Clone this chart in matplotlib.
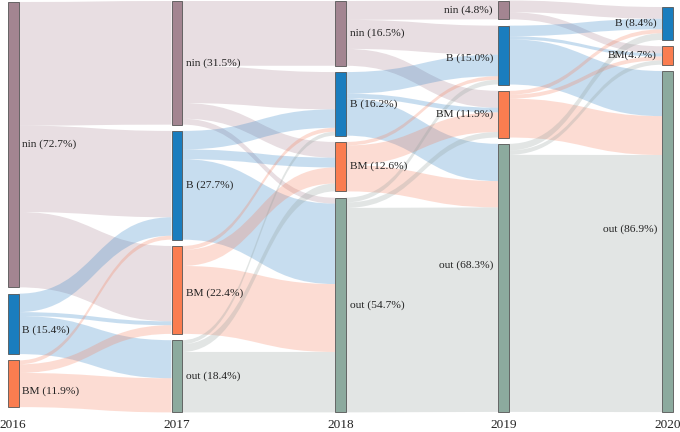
import matplotlib
matplotlib.use("Agg")
import matplotlib.pyplot as plt
from matplotlib.path import Path
from matplotlib.patches import PathPatch, Rectangle

# ---------------- data ----------------
years = ["2016", "2017", "2018", "2019", "2020"]
col_cats = [
    ["nin", "B", "BM"],
    ["nin", "B", "BM", "out"],
    ["nin", "B", "BM", "out"],
    ["nin", "B", "BM", "out"],
    ["B", "BM", "out"],
]
pct_2016 = [72.7, 15.4, 11.9]
pct_2017 = [31.5, 27.7, 22.4, 18.4]
pct_2018 = [16.5, 16.2, 12.6, 54.7]
pct_2019 = [4.8, 15.0, 11.9, 68.3]
pct_2020 = [8.4, 4.7, 86.9]
node_pct = [pct_2016, pct_2017, pct_2018, pct_2019, pct_2020]

# label texts as shown
labels_2020 = ["B (8.4%)", "BM(4.7%)", "out (86.9%)"]

# flows[source node][target node] (share of population, %)
flows_2016_2017 = [[31.5, 22.0, 19.2, 0.0],
                   [0.0, 4.7, 1.0, 9.7],
                   [0.0, 1.0, 2.2, 8.7]]
flows_2017_2018 = [[16.5, 9.5, 4.0, 1.5],
                   [0.0, 4.7, 2.5, 20.5],
                   [0.0, 1.0, 4.1, 17.3],
                   [0.0, 1.0, 2.0, 15.4]]
flows_2018_2019 = [[4.8, 7.4, 4.3, 0.0],
                   [0.0, 5.5, 1.2, 9.5],
                   [0.0, 0.9, 5.0, 6.7],
                   [0.0, 1.2, 1.4, 52.1]]
flows_2019_2020 = [[3.0, 1.8, 0.0],
                   [2.7, 0.8, 11.5],
                   [1.0, 1.0, 9.9],
                   [1.7, 1.1, 65.5]]
flows = [flows_2016_2017, flows_2017_2018, flows_2018_2019, flows_2019_2020]

# ---------------- style / layout ----------------
node_colors = {"nin": "#a38591", "B": "#1a7dbe", "BM": "#fa7d50", "out": "#8caa9e"}
link_colors = {"nin": "#a7808f", "B": "#2a7fc4", "BM": "#f77a55", "out": "#8f9d99"}
link_alpha = 0.26
col_x = [8, 171.5, 335, 498, 662]
node_w = 10.5
px_per_pct = 3.925
gap = 6.3
col_top = [2, 1, 1, 0.5, 7]
label_nudge = {(0, "B"): 6, (0, "BM"): 7, (3, "out"): -13, (4, "out"): -12,
               (1, "BM"): 3, (3, "B"): 3}
FONT = ["Liberation Serif", "DejaVu Serif"]

fig = plt.figure(figsize=(6.8, 4.32), dpi=100)
ax = fig.add_axes([0, 0, 1, 1])
ax.set_xlim(0, 680)
ax.set_ylim(432, 0)
ax.axis("off")

# node positions
node_y = []
for c, pcts in enumerate(node_pct):
    y = col_top[c]
    ys = []
    for p in pcts:
        h = p * px_per_pct
        ys.append((y, y + h))
        y += h + gap
    node_y.append(ys)

# links
for t, F in enumerate(flows):
    src_off = [ys[0] for ys in node_y[t]]
    tgt_start = {}
    tmp = [ys[0] for ys in node_y[t + 1]]
    for i in range(len(F)):
        for j in range(len(F[i])):
            v = F[i][j]
            if v <= 0:
                continue
            tgt_start[(i, j)] = tmp[j]
            tmp[j] += v * px_per_pct
    for i in range(len(F)):
        for j in range(len(F[i])):
            v = F[i][j]
            if v <= 0:
                continue
            h = v * px_per_pct
            s0 = src_off[i]
            s1 = s0 + h
            src_off[i] = s1
            t0 = tgt_start[(i, j)]
            t1 = t0 + h
            x0 = col_x[t] + node_w
            x1 = col_x[t + 1]
            xm = (x0 + x1) / 2
            verts = [(x0, s0), (xm, s0), (xm, t0), (x1, t0),
                     (x1, t1), (xm, t1), (xm, s1), (x0, s1), (x0, s0)]
            codes = [Path.MOVETO, Path.CURVE4, Path.CURVE4, Path.CURVE4,
                     Path.LINETO, Path.CURVE4, Path.CURVE4, Path.CURVE4,
                     Path.CLOSEPOLY]
            color = link_colors[col_cats[t][i]]
            ax.add_patch(PathPatch(Path(verts, codes), facecolor=color,
                                   edgecolor="none", alpha=link_alpha, zorder=1))

# nodes and labels
for c, cats in enumerate(col_cats):
    for k, cat in enumerate(cats):
        y0, y1 = node_y[c][k]
        ax.add_patch(Rectangle((col_x[c], y0), node_w, y1 - y0,
                               facecolor=node_colors[cat], edgecolor="#555555",
                               lw=0.6, zorder=3))
        if c == 4:
            txt = labels_2020[k]
        else:
            txt = f"{cat} ({node_pct[c][k]:.1f}%)"
        yc = (y0 + y1) / 2 + label_nudge.get((c, cat), 0)
        if c <= 2:
            ax.text(col_x[c] + node_w + 4, yc, txt, ha="left", va="center",
                    fontsize=8.2, family=FONT, color="#222222", zorder=4)
        else:
            ax.text(col_x[c] - 5, yc, txt, ha="right", va="center",
                    fontsize=8.2, family=FONT, color="#222222", zorder=4)
    ax.text(col_x[c] + node_w / 2, 425, years[c], ha="center", va="center",
            fontsize=9.5, family=FONT, color="#222222")

fig.savefig("out.png", dpi=100)
